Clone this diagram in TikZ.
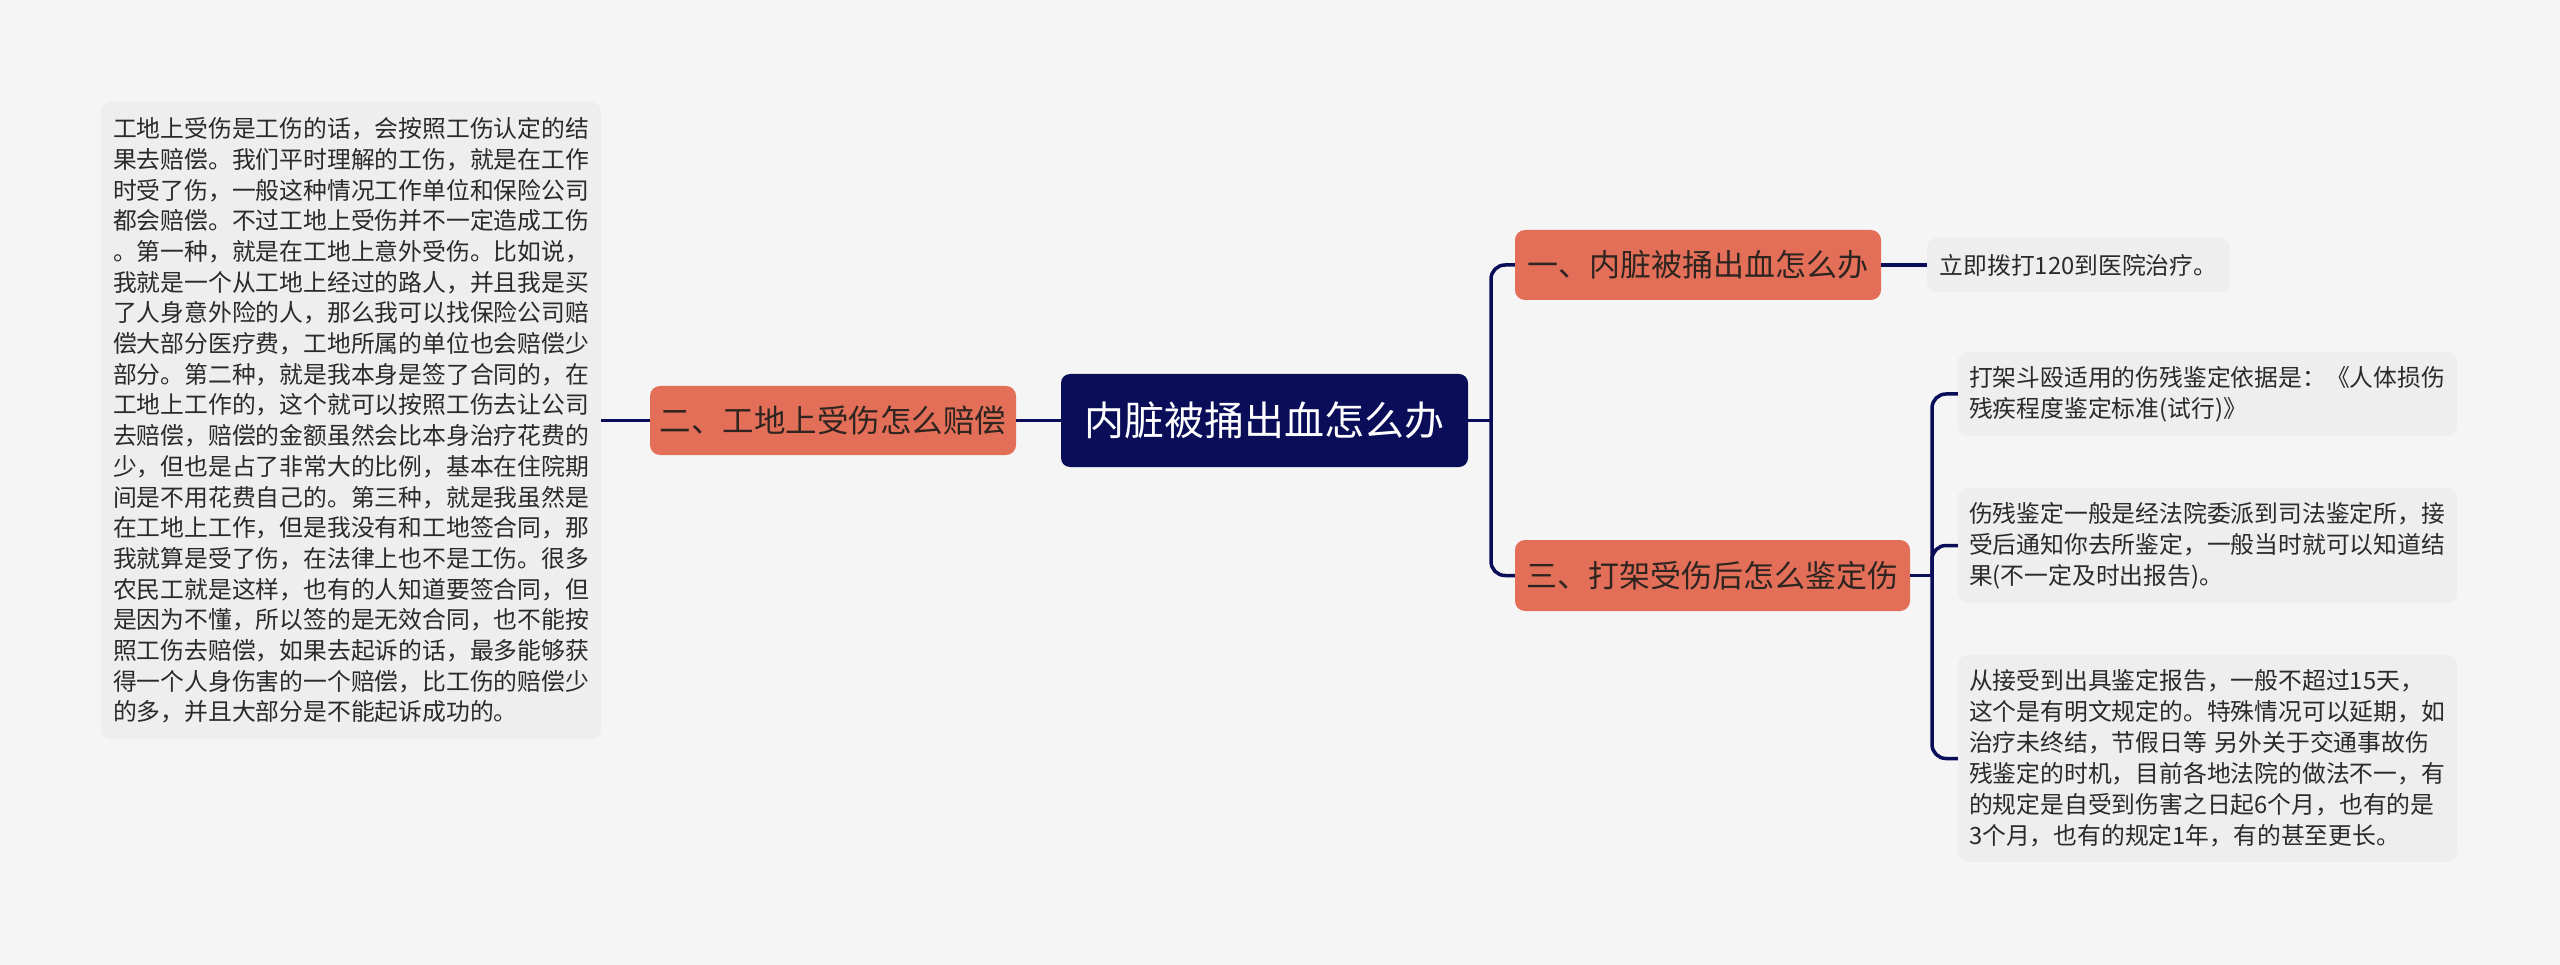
\documentclass[tikz,border=0pt]{standalone}
\usepackage{fontspec}
\setmainfont{Noto Sans CJK SC}
\definecolor{bgc}{HTML}{F5F5F5}
\definecolor{leafc}{HTML}{EEEEEE}
\definecolor{navy}{HTML}{0A0E59}
\definecolor{branchc}{HTML}{E46F59}
\definecolor{btext}{HTML}{2E2420}
\definecolor{ltext}{HTML}{2A2A2A}
\tikzset{
  rootbox/.style={fill=navy, rounded corners=9pt, text=white, inner sep=0pt,
    font={\fontsize{40pt}{48pt}\selectfont}},
  branchbox/.style={fill=branchc, rounded corners=10pt, text=btext, inner sep=0pt,
    font={\fontsize{31pt}{38pt}\selectfont}},
  leafbox/.style={fill=leafc, rounded corners=10pt, text=ltext, align=left,
    inner ysep=0pt, font={\fontsize{23.8pt}{31pt}\selectfont}},
  conn/.style={draw=navy, line width=3.5pt}
}
\begin{document}
\begin{tikzpicture}[x=1pt,y=-1pt]
\fill[bgc] (0,0) rectangle (2560,965);
\useasboundingbox (0,0) rectangle (2560,965);

\node[rootbox, minimum width=407pt, minimum height=93pt] (root) at (1264.5,420.5) {内脏被捅出血怎么办};

\node[branchbox, minimum width=366pt, minimum height=69pt, font={\fontsize{31.5pt}{38pt}\selectfont}] (b2) at (833,420.5) {二、工地上受伤怎么赔偿};
\node[branchbox, minimum width=366pt, minimum height=70pt] (b1) at (1698,265) {一、内脏被捅出血怎么办};
\node[branchbox, minimum width=395pt, minimum height=71pt] (b3) at (1712.5,575.5) {三、打架受伤后怎么鉴定伤};

\node[leafbox, text width=476pt, inner xsep=12pt, minimum height=637pt,
  font={\fontsize{23.8pt}{30.7pt}\selectfont}] (l2) at (351,420.5) {工地上受伤是工伤的话，会按照工伤认定的结\\
果去赔偿。我们平时理解的工伤，就是在工作\\
时受了伤，一般这种情况工作单位和保险公司\\
都会赔偿。不过工地上受伤并不一定造成工伤\\
。第一种，就是在工地上意外受伤。比如说，\\
我就是一个从工地上经过的路人，并且我是买\\
了人身意外险的人，那么我可以找保险公司赔\\
偿大部分医疗费，工地所属的单位也会赔偿少\\
部分。第二种，就是我本身是签了合同的，在\\
工地上工作的，这个就可以按照工伤去让公司\\
去赔偿，赔偿的金额虽然会比本身治疗花费的\\
少，但也是占了非常大的比例，基本在住院期\\
间是不用花费自己的。第三种，就是我虽然是\\
在工地上工作，但是我没有和工地签合同，那\\
我就算是受了伤，在法律上也不是工伤。很多\\
农民工就是这样，也有的人知道要签合同，但\\
是因为不懂，所以签的是无效合同，也不能按\\
照工伤去赔偿，如果去起诉的话，最多能够获\\
得一个人身伤害的一个赔偿，比工伤的赔偿少\\
的多，并且大部分是不能起诉成功的。};

\node[leafbox, align=center, inner xsep=0pt, minimum width=303pt, minimum height=54pt] (l1) at (2078.5,265) {立即拨打120到医院治疗。};

\node[leafbox, text width=477pt, inner xsep=11pt, minimum height=84pt] (r1) at (2207.5,394) {打架斗殴适用的伤残鉴定依据是：《人体损伤\\
残疾程度鉴定标准(试行)》};
\node[leafbox, text width=477pt, inner xsep=11pt, minimum height=115pt] (r2) at (2207.5,545.5) {伤残鉴定一般是经法院委派到司法鉴定所，接\\
受后通知你去所鉴定，一般当时就可以知道结\\
果(不一定及时出报告)。};
\node[leafbox, text width=477pt, inner xsep=11pt, minimum height=207pt] (r3) at (2207.5,758.5) {从接受到出具鉴定报告，一般不超过15天，\\
这个是有明文规定的。特殊情况可以延期，如\\
治疗未终结，节假日等 另外关于交通事故伤\\
残鉴定的时机，目前各地法院的做法不一，有\\
的规定是自受到伤害之日起6个月，也有的是\\
3个月，也有的规定1年，有的甚至更长。};

\coordinate (j1) at (1491,420.5);
\coordinate (j2) at (1932,575.5);

\draw[conn] (root.west) -- (b2.east);
\draw[conn] (b2.west) -- (l2.east);
\draw[conn] (root.east) -- (j1);
\draw[conn, rounded corners=14pt] (b1.west) -| (j1) |- (b3.west);
\draw[conn] (b1.east) -- (l1.west);
\draw[conn] (b3.east) -- (j2);
\draw[conn, rounded corners=14pt] (r1.west) -| (j2) |- (r3.west);
\draw[conn, rounded corners=14pt] (r2.west) -| (j2);
\end{tikzpicture}
\end{document}
